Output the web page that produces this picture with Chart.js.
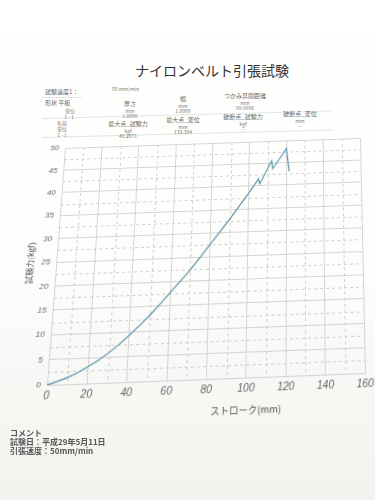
<!DOCTYPE html>
<html><head><meta charset="utf-8">
<script src="https://cdn.jsdelivr.net/npm/chart.js@4.4.1/dist/chart.umd.min.js"></script>
<style>
html,body{margin:0;padding:0;background:#fff;}
body{width:375px;height:500px;position:relative;overflow:hidden;font-family:"Noto Sans CJK JP","Noto Sans",sans-serif;
 background:linear-gradient(180deg,#ffffff 0%,#fdfdfb 55%,#f0f3ee 100%);}
.t{position:absolute;white-space:nowrap;color:#777;font-size:5px;line-height:1;}
.h{font-size:6px;color:#666;}
.c{transform:translateX(-50%);text-align:center;}
#title{position:absolute;left:212px;top:60px;transform:translateX(-50%);font-size:14px;color:#333;white-space:nowrap;}
#wrap{position:absolute;left:0;top:130px;width:375px;height:290px;transform-origin:0 0;}
.cm{position:absolute;left:10px;font-size:8px;color:#555;font-weight:bold;white-space:nowrap;line-height:1;}
.ln{position:absolute;height:0;border-top:1px solid #e4e4e4;transform-origin:0 0;}
</style></head><body>
<div id="title">ナイロンベルト引張試験</div>

<div class="t h" style="left:45px;top:89px;">試験速度1：</div>
<div class="t" style="left:112px;top:86px;">50 mm/min</div>

<div class="ln" style="left:42px;top:97px;width:40px;"></div>
<div class="ln" style="left:42px;top:118px;width:290px;transform:rotate(-1.5deg);"></div>
<div class="ln" style="left:42px;top:137px;width:290px;transform:rotate(-1.5deg);"></div>
<div class="t h" style="left:45px;top:100px;">形状 平板</div>
<div class="t c" style="left:70px;top:108px;">単位</div>
<div class="t c" style="left:69px;top:114px;">1 - 1</div>
<div class="t c h" style="left:130px;top:101px;">厚さ</div>
<div class="t c" style="left:130px;top:108px;">mm</div>
<div class="t c" style="left:130px;top:113px;">1.0000</div>
<div class="t c h" style="left:183px;top:96px;">幅</div>
<div class="t c" style="left:183px;top:103px;">mm</div>
<div class="t c" style="left:183px;top:108px;">1.0000</div>
<div class="t c h" style="left:245px;top:93px;">つかみ具間距離</div>
<div class="t c" style="left:245px;top:100px;">mm</div>
<div class="t c" style="left:245px;top:105px;">99.9996</div>

<div class="t c" style="left:62px;top:120px;">名前</div>
<div class="t c" style="left:62px;top:126px;">単位</div>
<div class="t c" style="left:62px;top:132px;">1 - 1</div>
<div class="t c h" style="left:128px;top:121px;">最大点_試験力</div>
<div class="t c" style="left:128px;top:128px;">kgf</div>
<div class="t c" style="left:128px;top:133px;">48.2071</div>
<div class="t c h" style="left:183px;top:117px;">最大点_変位</div>
<div class="t c" style="left:183px;top:124px;">mm</div>
<div class="t c" style="left:183px;top:129px;">133.394</div>
<div class="t c h" style="left:243px;top:114px;">破断点_試験力</div>
<div class="t c" style="left:243px;top:121px;">kgf</div>
<div class="t c" style="left:243px;top:126px;">--</div>
<div class="t c h" style="left:300px;top:111px;">破断点_変位</div>
<div class="t c" style="left:300px;top:118px;">mm</div>
<div class="t c" style="left:300px;top:123px;">--</div>

<div id="wrap"><canvas id="c" width="375" height="290"></canvas></div>

<div class="cm" style="top:429px;">コメント</div>
<div class="cm" style="top:438px;">試験日：平成29年5月11日</div>
<div class="cm" style="top:447px;">引張速度：50mm/min</div>

<script>
// Data
const stroke = [0,5,10,15,20,25,30,35,40,45,50,55,60,65,70,75,80,85,90,95,100,105,105.7,112,112.6,120,120.6,121.5];
const force  = [0,0.6,1.3,2.2,3.3,4.5,5.9,7.5,9.3,11.2,13.2,15.4,17.7,20.0,22.3,24.9,27.6,30.2,32.9,35.7,38.5,41.5,40.4,45.5,43.7,48.2,46.0,43.0];
const xTicks = [0,20,40,60,80,100,120,140,160];
const yTicks = [0,5,10,15,20,25,30,35,40,45,50];
const xMinor = [10,30,50,70,90,110,130,150];
const yMinor = [2.5,7.5,12.5,17.5,22.5,27.5,32.5,37.5,42.5,47.5];
const xTitle = 'ストローク(mm)';
const xTitleAt = 100; // x title is printed under this tick value
const yTitle = '試験力(kgf)';

const minorGrid = {
  id:'minorGrid',
  beforeDatasetsDraw(chart){
    const {ctx, chartArea:a, scales:{x,y}} = chart;
    ctx.save();
    ctx.strokeStyle='#cfcfcf'; ctx.lineWidth=1; ctx.setLineDash([3,3]);
    xMinor.forEach(v=>{const p=Math.round(x.getPixelForValue(v))+0.5;ctx.beginPath();ctx.moveTo(p,a.top);ctx.lineTo(p,a.bottom);ctx.stroke();});
    yMinor.forEach(v=>{const p=Math.round(y.getPixelForValue(v))+0.5;ctx.beginPath();ctx.moveTo(a.left,p);ctx.lineTo(a.right,p);ctx.stroke();});
    ctx.restore();
  },
  afterDraw(chart){
    const {ctx, scales:{x}} = chart;
    ctx.save();
    ctx.fillStyle='#555'; ctx.font='9px "Noto Sans CJK JP"'; ctx.textAlign='center'; ctx.textBaseline='middle';
    ctx.fillText(xTitle, x.getPixelForValue(xTitleAt), x.bottom-10);
    ctx.restore();
  }
};

const chart = new Chart(document.getElementById('c'),{
  type:'line',
  data:{datasets:[{data:stroke.map((s,i)=>({x:s,y:force[i]})),borderColor:'#5a93aa',borderWidth:1.2,pointRadius:0,tension:0,fill:false}]},
  options:{
    responsive:false,animation:false,
    layout:{padding:{top:16,right:13,left:24,bottom:0}},
    plugins:{legend:{display:false},tooltip:{enabled:false}},
    scales:{
      x:{type:'linear',min:0,max:160,
        afterBuildTicks(s){s.ticks=xTicks.map(v=>({value:v}));},
        afterFit(s){s.height=40;},
        grid:{color:'#d4d4d4',drawTicks:false},border:{color:'#d4d4d4'},
        ticks:{padding:4,color:'#666',font:{family:'Liberation Sans',size:10,style:'italic'},maxRotation:0}},
      y:{type:'linear',min:0,max:50,
        afterBuildTicks(s){s.ticks=yTicks.map(v=>({value:v}));},
        afterFit(s){s.width=31;},
        grid:{color:'#d4d4d4',drawTicks:false},border:{color:'#d4d4d4'},
        ticks:{padding:6,color:'#666',font:{family:'Liberation Sans',size:8,style:'italic'}},
        title:{display:true,text:yTitle,color:'#555',font:{family:'Noto Sans CJK JP',size:8},padding:{top:0,bottom:2}}}
    }
  },
  plugins:[minorGrid]
});

// Photo perspective: map the plot rectangle onto the skewed quadrilateral seen in the photo
function homography(src,dst){
  const A=[],b=[];
  for(let i=0;i<4;i++){
    const [x,y]=src[i],[u,v]=dst[i];
    A.push([x,y,1,0,0,0,-u*x,-u*y]); b.push(u);
    A.push([0,0,0,x,y,1,-v*x,-v*y]); b.push(v);
  }
  const n=8;
  for(let c=0;c<n;c++){
    let p=c; for(let r=c+1;r<n;r++) if(Math.abs(A[r][c])>Math.abs(A[p][c])) p=r;
    [A[c],A[p]]=[A[p],A[c]]; [b[c],b[p]]=[b[p],b[c]];
    for(let r=0;r<n;r++){ if(r===c) continue; const f=A[r][c]/A[c][c];
      for(let k=c;k<n;k++) A[r][k]-=f*A[c][k]; b[r]-=f*b[c]; }
  }
  return b.map((v,i)=>v/A[i][i]);
}
const a = chart.chartArea;
const src = [[a.left,a.top],[a.right,a.top],[a.right,a.bottom],[a.left,a.bottom]];
const dst = [[65,18],[360,8],[365,243],[47,255]];
const h = homography(src,dst);
document.getElementById('wrap').style.transform =
  `matrix3d(${h[0]},${h[3]},0,${h[6]},${h[1]},${h[4]},0,${h[7]},0,0,1,0,${h[2]},${h[5]},0,1)`;
</script>
</body></html>
